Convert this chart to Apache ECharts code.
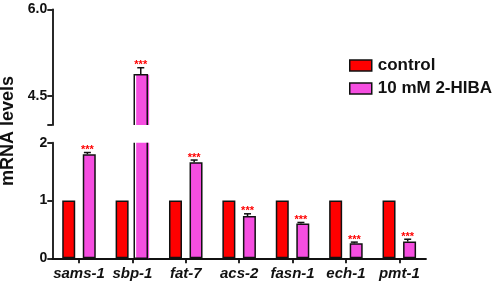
<!DOCTYPE html>
<html>
<head>
<meta charset="utf-8">
<script src="https://cdn.jsdelivr.net/npm/echarts@6/dist/echarts.min.js"></script>
<style>
  html, body { margin: 0; padding: 0; background: #fff; }
  #chart { width: 498px; height: 285px; }
</style>
</head>
<body>
<div id="chart"></div>
<script>
// data
const genes = ['sams-1', 'sbp-1', 'fat-7', 'acs-2', 'fasn-1', 'ech-1', 'pmt-1'];
const controlValues = [1, 1, 1, 1, 1, 1, 1];
const hibaValues = [1.80, 4.87, 1.66, 0.73, 0.60, 0.26, 0.29];
const hibaErrors = [0.03, 0.12, 0.04, 0.04, 0.02, 0.02, 0.04];
const lowerTicks = [0, 1, 2];
const upperTicks = [4, 4.5, 6];
const upperLabels = [4.5, 6];

const BREAK_LOW = 2;   // top of lower segment
const BREAK_HIGH = 4;  // bottom of upper segment
const FONT = 'Arial, "Liberation Sans", sans-serif';
const RED = '#ff0000';
const PINK = '#f54ee0';
const INK = '#111';
const BAR_W = 13;
const BAR_GAP = 0.58;
const OFFSET = (BAR_W * 2 + BAR_W * BAR_GAP) / 4;

const chart = echarts.init(document.getElementById('chart'));

// bars that cross the break get an open edge, so their outline is drawn separately
const isBroken = v => v > BREAK_LOW;
const lowerHiba = hibaValues.map(v => isBroken(v)
    ? { value: v, itemStyle: { borderWidth: 0 } } : v);
const upperHiba = hibaValues.map(v => isBroken(v)
    ? { value: v, itemStyle: { borderWidth: 0 } } : '-');
const brokenBars = [];
const errLower = [];
const errUpper = [];
hibaValues.forEach((v, i) => {
    if (isBroken(v)) {
        brokenBars.push([i, v]);
        errUpper.push([i, v, hibaErrors[i]]);
    } else {
        errLower.push([i, v, hibaErrors[i]]);
    }
});

function renderErr(params, api) {
    const i = api.value(0);
    const mean = api.value(1);
    const err = api.value(2);
    const p = api.coord([i, mean]);
    const t = api.coord([i, mean + err]);
    const x = p[0] + OFFSET;
    return {
        type: 'group',
        children: [
            { type: 'line', shape: { x1: x, y1: p[1], x2: x, y2: t[1] }, style: { stroke: INK, lineWidth: 1.5 } },
            { type: 'line', shape: { x1: x - 3.5, y1: t[1], x2: x + 3.5, y2: t[1] }, style: { stroke: INK, lineWidth: 1.5 } },
            { type: 'text', x: x, y: t[1] - 2.5, style: { text: '***', fill: RED, font: 'bold 11px ' + FONT, align: 'center', verticalAlign: 'middle' } }
        ]
    };
}

// three-sided outline of a bar cut by the axis break
function makeOutline(upper) {
    return function (params, api) {
        const i = api.value(0);
        const v = api.value(1);
        const top = api.coord([i, upper ? v : BREAK_LOW]);
        const bottom = api.coord([i, upper ? BREAK_HIGH : 0]);
        const x = top[0] + OFFSET;
        const l = x - BAR_W / 2;
        const r = x + BAR_W / 2;
        const pts = upper
            ? [[l, bottom[1]], [l, top[1]], [r, top[1]], [r, bottom[1]]]
            : [[l, top[1]], [l, bottom[1]], [r, bottom[1]], [r, top[1]]];
        return { type: 'polyline', shape: { points: pts }, style: { stroke: INK, lineWidth: 1.5, fill: null } };
    };
}

const barStyle = color => ({ color: color, borderColor: INK, borderWidth: 1.5 });
const axisLine = { show: true, lineStyle: { color: INK, width: 1.8 } };
const axisTick = { show: true, length: 5, lineStyle: { color: INK, width: 1.8 } };
const gap = (BAR_GAP * 100) + '%';

const option = {
    animation: false,
    grid: [
        { left: 52.3, width: 373.7, top: 9.3, height: 115.7 },
        { left: 52.3, width: 373.7, top: 142.7, height: 115.6 }
    ],
    legend: {
        orient: 'vertical',
        left: 344,
        top: 52,
        icon: 'rect',
        itemWidth: 22,
        itemHeight: 11,
        itemGap: 6,
        data: ['control', '10 mM 2-HIBA'],
        itemStyle: { borderColor: INK, borderWidth: 1.5 },
        textStyle: { fontFamily: FONT, fontWeight: 'bold', fontSize: 17, color: INK, padding: [0, 0, 0, 1] }
    },
    xAxis: [
        { gridIndex: 0, type: 'category', data: genes, show: false },
        {
            gridIndex: 1, type: 'category', data: genes,
            axisLine: axisLine,
            axisTick: Object.assign({ alignWithLabel: true }, axisTick),
            axisLabel: { interval: 0, fontFamily: FONT, fontWeight: 'bold', fontStyle: 'italic', fontSize: 15, color: INK, margin: 8 }
        }
    ],
    yAxis: [
        {
            gridIndex: 0, type: 'value', min: BREAK_HIGH, max: upperTicks[upperTicks.length - 1],
            axisLine: axisLine,
            axisTick: Object.assign({ customValues: upperTicks }, axisTick),
            axisLabel: {
                customValues: upperLabels,
                formatter: v => v.toFixed(1),
                fontFamily: FONT, fontWeight: 'bold', fontSize: 14, color: INK, margin: 5
            },
            splitLine: { show: false }
        },
        {
            gridIndex: 1, type: 'value', min: lowerTicks[0], max: BREAK_LOW, interval: 1,
            axisLine: axisLine,
            axisTick: axisTick,
            axisLabel: { fontFamily: FONT, fontWeight: 'bold', fontSize: 14, color: INK, margin: 5 },
            splitLine: { show: false }
        }
    ],
    series: [
        { name: 'control', type: 'bar', xAxisIndex: 1, yAxisIndex: 1, data: controlValues, barWidth: BAR_W, barGap: gap, itemStyle: barStyle(RED) },
        { name: '10 mM 2-HIBA', type: 'bar', xAxisIndex: 1, yAxisIndex: 1, data: lowerHiba, barWidth: BAR_W, barGap: gap, itemStyle: barStyle(PINK) },
        { name: 'control', type: 'bar', xAxisIndex: 0, yAxisIndex: 0, data: controlValues.map(() => '-'), barWidth: BAR_W, barGap: gap, itemStyle: barStyle(RED) },
        { name: '10 mM 2-HIBA', type: 'bar', xAxisIndex: 0, yAxisIndex: 0, data: upperHiba, barWidth: BAR_W, barGap: gap, itemStyle: barStyle(PINK) },
        { type: 'custom', xAxisIndex: 1, yAxisIndex: 1, data: brokenBars, renderItem: makeOutline(false), z: 4 },
        { type: 'custom', xAxisIndex: 0, yAxisIndex: 0, data: brokenBars, renderItem: makeOutline(true), z: 4 },
        { type: 'custom', xAxisIndex: 1, yAxisIndex: 1, data: errLower, renderItem: renderErr, z: 5 },
        { type: 'custom', xAxisIndex: 0, yAxisIndex: 0, data: errUpper, renderItem: renderErr, z: 5 }
    ],
    graphic: [{
        type: 'text',
        x: 8.5,
        y: 131,
        rotation: Math.PI / 2,
        style: { text: 'mRNA levels', font: 'bold 18px ' + FONT, fill: INK, align: 'center', verticalAlign: 'middle' }
    }]
};

chart.setOption(option);
</script>
</body>
</html>
